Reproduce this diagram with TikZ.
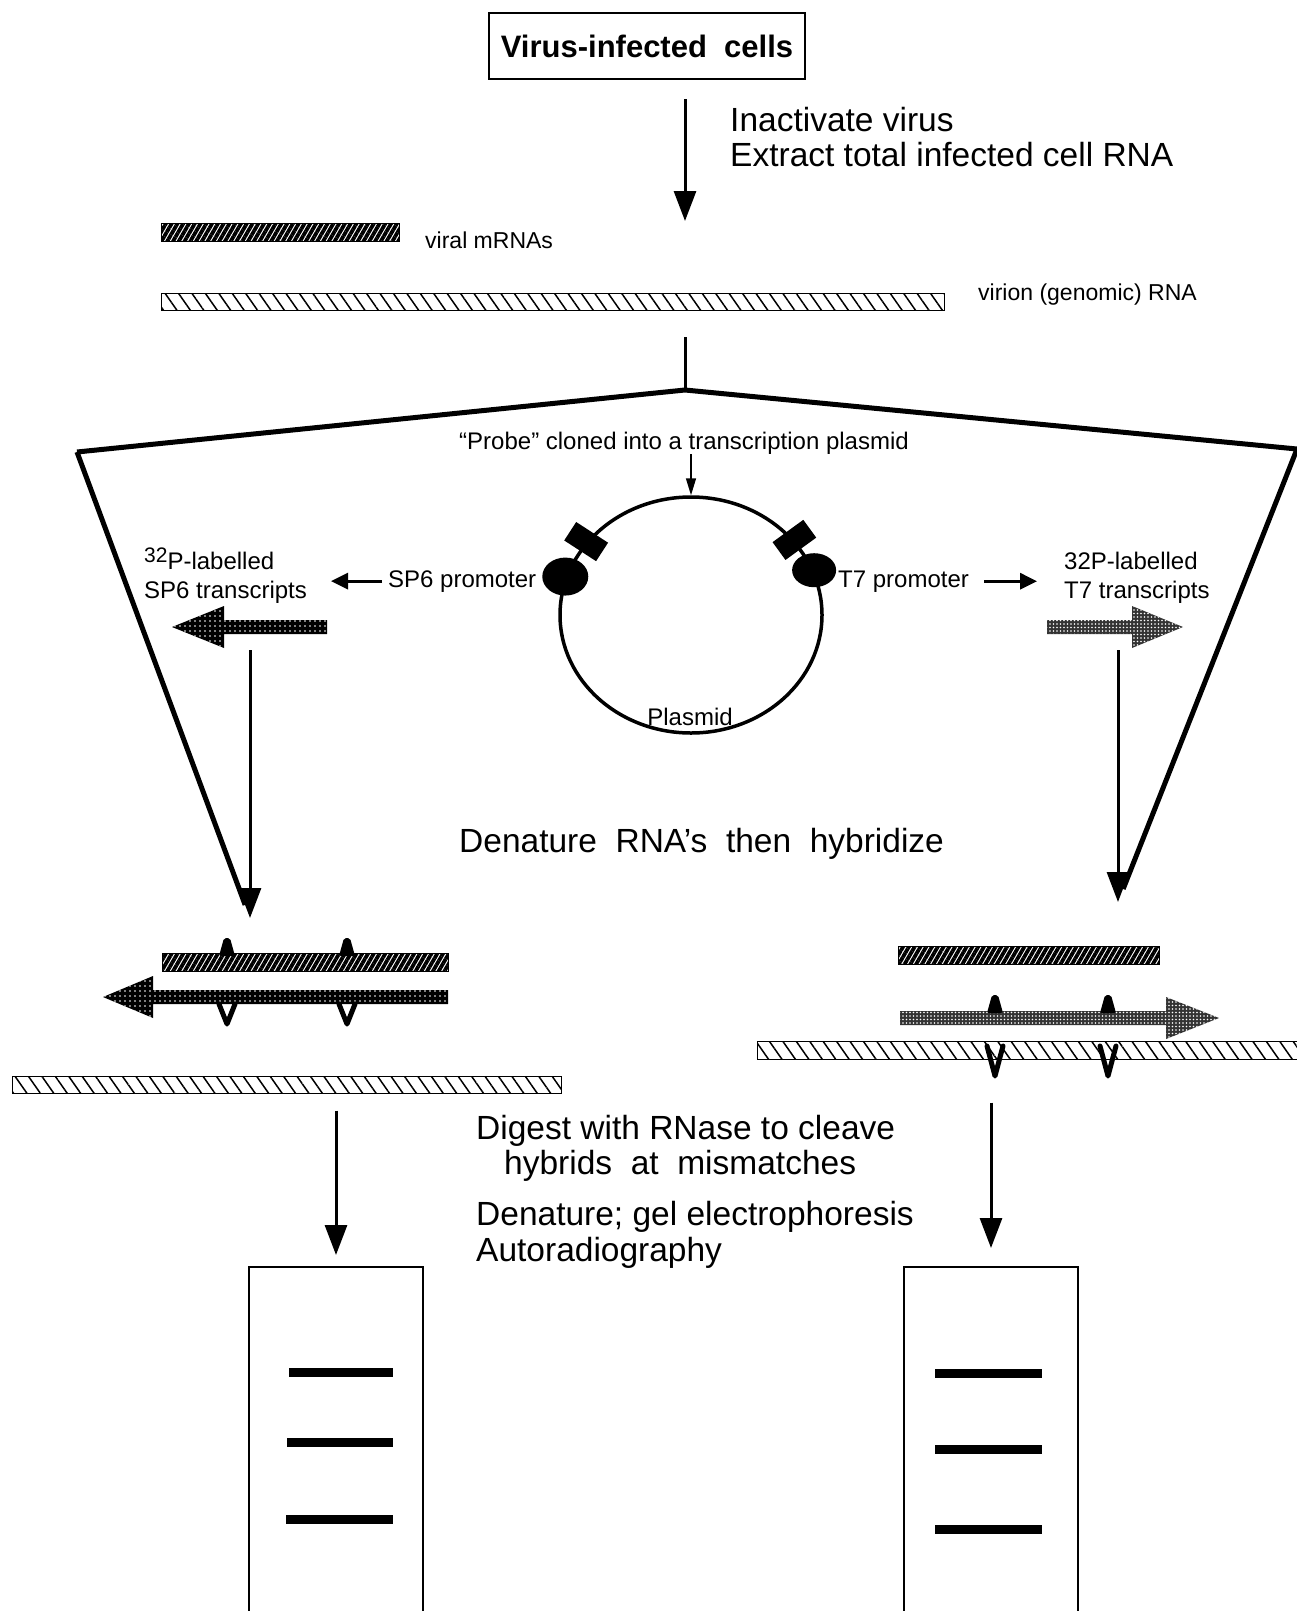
\documentclass[tikz,border=0pt]{standalone}
\usepackage{fontspec}
\setmainfont{Liberation Sans}
\usepackage{tikz}
\usetikzlibrary{arrows.meta}
\usetikzlibrary{patterns.meta}
\usetikzlibrary{shapes.geometric, shapes.misc}
\usetikzlibrary{positioning}

\newcommand{\rnaarrow}[5]{\path[#1] (#2,#5-7) -- (#3,#5-7) -- (#3,#5-21) -- (#4,#5) -- (#3,#5+21) -- (#3,#5+7) -- (#2,#5+7) -- cycle;}
\newcommand{\bulge}[2]{\fill[rounded corners=2pt] (#1-8,#2+2) -- (#1-3,#2-16) -- (#1+3,#2-16) -- (#1+8,#2+2) -- cycle;}
\newcommand{\dip}[3]{\draw[mismatch] (#1-8,#2) -- (#1,#2+#3) -- (#1+8,#2);}

\begin{document}
\begin{tikzpicture}[x=1pt, y=-1pt,
	arr/.style={line width=3pt, -{Triangle[length=30pt, width=22pt]}},
	midarr/.style={line width=3pt, -{Triangle[length=17pt, width=16pt]}},
	smallarr/.style={line width=1.5pt, -{Triangle[length=17pt, width=10pt]}},
	funnel/.style={line width=5pt, line join=miter},
	txt/.style={inner sep=0pt, anchor=base west},
	bigtxt/.style={font=\fontsize{33.5}{40}\selectfont},
	midtxt/.style={font=\fontsize{24}{29}\selectfont},
	labtxt/.style={font=\fontsize{23}{28}\selectfont},
	mrnabar/.style={draw, line width=1pt, inner sep=0pt, minimum height=18,
		pattern={Lines[angle=60, distance=5pt, line width=3.8pt]}},
	virionbar/.style={draw, line width=1pt, inner sep=0pt, minimum height=17,
		pattern={Lines[angle=-55, distance=11pt, line width=1.5pt]}},
	sp6fill/.style={preaction={fill=black}, pattern={Dots[distance=5pt, radius=0.9pt]}, pattern color=white},
	t7fill/.style={preaction={fill=black!80}, pattern={Dots[distance=3.5pt, radius=0.8pt]}, pattern color=white},
	mismatch/.style={line width=5pt, line join=round, line cap=round},
	gelbox/.style={draw, line width=2pt, inner sep=0pt, minimum width=174, minimum height=380},
	band/.style={line width=9pt}]

	\useasboundingbox (0,0) rectangle (1297,1611);

	\node[draw, line width=2pt, inner sep=0pt, minimum width=316, minimum height=66,
		font={\bfseries\fontsize{31}{31}\selectfont}] (title) at (647,46) {Virus-infected\ \ cells};
	\node[txt, bigtxt] (inact) at (730,131) {Inactivate virus};
	\node[txt, bigtxt] (extract) at (730,166) {Extract total infected cell RNA};

	\coordinate (split) at (685,221);
	\draw[arr, shorten <=19pt] (title.south -| split) -- (split);

	\node[mrnabar, minimum width=238] (mrna) at (280,232.5) {};
	\node[txt, labtxt] (mrnalab) at (425,248) {viral mRNAs};
	\node[virionbar, minimum width=783] (virion) at (552.5,301.5) {};
	\node[txt, labtxt] (virlab) at (978,300) {virion (genomic) RNA};

	\coordinate (stem) at (685,337);
	\coordinate (apex) at (685,390);
	\coordinate (lcorner) at (77,452);
	\coordinate (rcorner) at (1297,449);
	\coordinate (ltip) at (250,918);
	\coordinate (rtip) at (1118,902);
	\coordinate (lstart) at (250,650);
	\coordinate (rstart) at (1118,650);

	\draw[line width=3pt] (stem) -- (apex);
	\draw[funnel] (lcorner) -- (apex) -- (rcorner);
	\draw[funnel, shorten >=14pt] (lcorner) -- (ltip);
	\draw[funnel, shorten >=14pt] (rcorner) -- (rtip);
	\draw[arr] (lstart) -- (ltip);
	\draw[arr] (rstart) -- (rtip);

	\node[inner sep=0pt, anchor=base, midtxt] (probe) at (684,449) {“Probe” cloned into a transcription plasmid};
	\node[draw, ellipse, line width=3.5pt, inner sep=0pt, minimum width=262, minimum height=236] (plasmid) at (691,615) {};
	\draw[smallarr] (probe.south -| plasmid.north) -- (plasmid.north);

	\begin{scope}[every node/.style={fill=black, inner sep=0pt}]
		\node[ellipse, minimum width=46, minimum height=38] (sp6blob) at (plasmid.163) {};
		\node[ellipse, minimum width=44, minimum height=34] (t7blob) at (plasmid.20) {};
		\node[chamfered rectangle, chamfered rectangle xsep=6pt, minimum width=38, minimum height=22, rotate=147] (sp6mark) at (plasmid.145) {};
		\node[chamfered rectangle, chamfered rectangle xsep=6pt, minimum width=38, minimum height=22, rotate=36] (t7mark) at (plasmid.36) {};
	\end{scope}
	\node[inner sep=0pt, anchor=base, midtxt] (plaslab) at (690,725) {Plasmid};

	\node[txt, midtxt] (sp6prom) at (388,587) {SP6 promoter};
	\node[txt, midtxt] (t7prom) at (838,587) {T7 promoter};
	\draw[midarr] ([xshift=-6pt]sp6prom.west) -- ++(-51,0);
	\draw[midarr] ([xshift=15pt]t7prom.east) -- ++(53,0);

	\node[txt, midtxt] (sp6lab) at (144,569) {\raisebox{7pt}{\fontsize{21}{21}\selectfont 32}P-labelled};
	\node[txt, midtxt] (sp6lab2) at (144,598) {SP6 transcripts};
	\node[txt, midtxt] (t7lab) at (1064,569) {32P-labelled};
	\node[txt, midtxt] (t7lab2) at (1064,598) {T7 transcripts};
	\rnaarrow{sp6fill}{327}{224}{172}{627}
	\rnaarrow{t7fill}{1047}{1132}{1183}{627}

	\node[txt, bigtxt] (denat) at (459,852) {Denature\ \ RNA’s\ \ then\ \ hybridize};

	\node[mrnabar, minimum width=286] (mrnaL) at (305,962.5) {};
	\rnaarrow{sp6fill}{448}{153}{103}{997}
	\bulge{227}{954}
	\bulge{347}{954}
	\dip{227}{1004}{20}
	\dip{347}{1004}{20}
	\node[virionbar, minimum width=549] (virL) at (286.5,1084.5) {};

	\node[mrnabar, minimum width=261] (mrnaR) at (1028.5,955.5) {};
	\rnaarrow{t7fill}{900}{1166}{1219}{1018}
	\bulge{995}{1011}
	\bulge{1108}{1011}
	\node[virionbar, minimum width=550, minimum height=18] (virR) at (1032,1050) {};
	\dip{995}{1046}{30}
	\dip{1108}{1046}{30}

	\node[txt, bigtxt] (digest) at (476,1139) {Digest with RNase to cleave};
	\node[txt, bigtxt] (hybrids) at (504,1174) {hybrids\ \ at\ \ mismatches};
	\node[txt, bigtxt] (gel) at (476,1225) {Denature; gel electrophoresis};
	\node[txt, bigtxt] (autorad) at (476,1261) {Autoradiography};

	\node[gelbox] (gelL) at (336,1457) {};
	\node[gelbox] (gelR) at (991,1457) {};
	\draw[arr, shorten <=17pt, shorten >=11pt] (virL.south -| gelL.north) -- (gelL.north);
	\draw[arr, shorten <=43pt, shorten >=18pt] (virR.south -| gelR.north) -- (gelR.north);

	\draw[band] (289,1372) -- (393,1372);
	\draw[band] (287,1442) -- (393,1442);
	\draw[band] (286,1519) -- (393,1519);
	\draw[band] (935,1373) -- (1042,1373);
	\draw[band] (935,1449) -- (1042,1449);
	\draw[band] (935,1529) -- (1042,1529);
\end{tikzpicture}
\end{document}
